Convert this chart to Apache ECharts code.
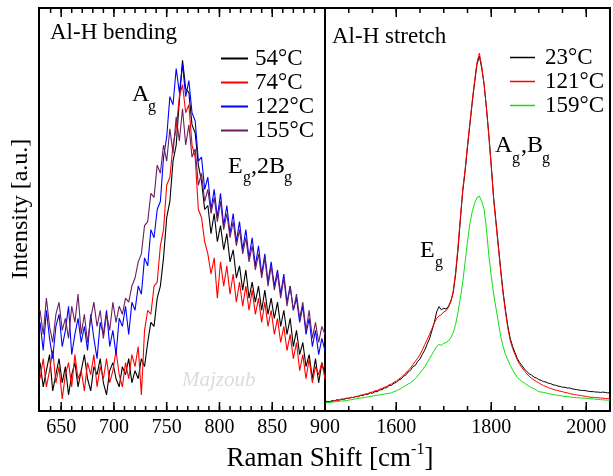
<!DOCTYPE html>
<html><head><meta charset="utf-8">
<script src="https://cdn.jsdelivr.net/npm/echarts@6/dist/echarts.min.js"></script>
<style>html,body{margin:0;padding:0;background:#fff}#c{width:613px;height:476px}</style>
</head><body><div id="c"></div>
<script>
// ---------- data ----------
// Left panel: Al-H bending, sampled every 3 cm-1 from 630 to 900
const leftStart = 630, leftStep = 3;
const black54 = [12,6,10,14,5,9,13,7,11,4,
 9,12,6,10,14,8,5,11,9,13,
 7,4,10,12,8,6,11,9,13,7,
 10,8,13,11,17,22,21,28,31,38,
 48,52,62,66,77,87,80,79,71,69,
 61,57,50,51,44,49,42,46,40,44,
 37,40,33,36,30,35,28,32,27,31,
 25,30,24,28,23,27,21,25,19,23,
 16,20,14,17,11,14,8,13,7,12,
 9];
const red74 = [8,13,6,10,15,7,11,3,9,12,
 6,14,8,10,5,12,9,14,6,11,
 8,13,7,10,15,9,6,12,8,14,
 11,16,4,20,25,24,31,32,41,45,
 56,58,66,70,78,81,74,76,66,63,
 50,48,42,39,34,38,28,37,31,36,
 29,34,27,32,26,31,25,30,24,28,
 22,27,21,25,19,23,17,21,15,19,
 13,17,10,14,8,13,7,11,9,12,
 8];
const blue122 = [22,15,25,18,13,21,24,16,20,26,
 14,19,23,17,21,15,24,18,13,22,
 19,25,16,20,14,23,21,26,19,27,
 25,31,29,38,36,45,43,50,52,63,
 68,78,76,85,79,86,78,82,74,72,
 62,63,55,58,50,55,48,54,46,51,
 44,49,42,47,40,45,38,43,36,41,
 34,39,32,37,31,35,29,34,27,31,
 25,28,22,26,19,23,16,20,14,18,
 15];
const purple155 = [25,19,28,21,17,24,27,20,23,18,
 26,22,29,19,24,17,23,27,21,25,
 18,24,20,27,22,26,24,28,27,31,
 33,37,39,46,47,54,53,61,59,66,
 62,70,64,73,67,75,66,71,63,65,
 56,59,52,55,49,53,47,52,45,49,
 43,47,41,45,39,43,37,41,35,39,
 33,38,31,36,30,34,28,33,26,31,
 25,29,23,27,20,25,18,22,17,21,
 19];

// Right panel: Al-H stretch, sampled every 5 cm-1 from 1450 to 2050
const rightStart = 1450, rightStep = 5;
const black23 = [2.2,2.4,2.3,2.6,2.5,2.8,2.7,3.0,2.9,3.2,
 3.1,3.4,3.3,3.6,3.5,3.9,3.8,4.2,4.1,4.5,
 4.4,4.8,4.8,5.2,5.3,5.7,5.8,6.3,6.4,6.9,
 7.1,7.7,7.9,8.6,8.9,9.7,10.1,11.0,11.3,12.3,
 12.9,14.1,15.1,16.6,17.9,19.9,21.9,24.6,25.9,25.1,
 25.5,25.3,26.0,27.3,29.4,34.0,40.0,47.5,54.5,59.5,
 65.5,71.0,76.5,81.5,86.0,88.0,85.0,81.0,75.0,68.5,
 61.0,53.0,47.0,41.0,35.0,29.5,25.0,21.0,18.0,16.0,
 14.5,13.0,12.0,11.2,10.4,9.8,9.2,8.9,8.4,8.2,
 7.8,7.6,7.3,7.2,6.9,6.8,6.5,6.4,6.2,6.1,
 5.9,5.9,5.7,5.7,5.5,5.4,5.3,5.2,5.1,5.1,
 5.0,4.9,4.8,4.8,4.7,4.7,4.6,4.7,4.6,4.5,
 4.5];
const red121 = [2.0,2.2,2.2,2.4,2.5,2.6,2.7,2.9,2.9,3.1,
 3.2,3.3,3.4,3.6,3.7,3.9,4.0,4.2,4.3,4.6,
 4.7,5.0,5.1,5.4,5.6,5.9,6.1,6.5,6.7,7.1,
 7.4,7.9,8.3,8.9,9.4,10.1,10.7,11.5,12.3,13.1,
 14.0,15.2,16.5,17.7,19.0,20.4,21.8,23.0,23.6,23.9,
 24.6,24.9,25.7,27.2,29.8,34.5,40.8,48.0,55.0,60.0,
 66.0,71.5,77.0,82.0,86.5,88.8,85.5,81.0,75.0,68.0,
 60.5,52.5,46.5,40.5,34.5,29.0,24.5,20.5,17.5,15.5,
 14.0,12.6,11.5,10.7,9.9,9.2,8.6,8.1,7.7,7.3,
 7.0,6.6,6.3,6.1,5.8,5.6,5.4,5.2,5.1,4.9,
 4.8,4.6,4.5,4.3,4.2,4.1,4.0,3.9,3.8,3.7,
 3.6,3.5,3.4,3.4,3.3,3.3,3.2,3.2,3.1,3.1,
 3.0];
const green159 = [2.0,2.1,2.1,2.2,2.3,2.3,2.4,2.5,2.5,2.6,
 2.7,2.8,2.9,3.0,3.1,3.2,3.3,3.4,3.5,3.6,
 3.7,3.8,3.9,4.0,4.1,4.2,4.3,4.4,4.5,4.8,
 5.0,5.3,5.6,6.0,6.3,6.7,7.0,7.5,8.0,8.7,
 9.4,10.2,11.0,12.0,13.0,14.0,15.0,16.0,16.5,16.3,
 16.8,17.0,17.4,18.2,19.5,21.5,24.5,28.0,32.0,37.0,
 42.0,46.5,49.5,51.5,53.0,53.3,52.0,50.0,45.0,38.5,
 33.5,29.0,25.5,22.0,18.5,16.0,14.0,12.7,11.3,10.2,
 9.2,8.3,7.8,7.3,6.9,6.5,6.1,5.8,5.5,5.2,
 4.8,4.7,4.6,4.5,4.3,4.2,4.1,4.0,3.9,3.8,
 3.7,3.6,3.6,3.5,3.4,3.4,3.3,3.3,3.2,3.2,
 3.1,3.1,3.0,3.0,2.9,2.9,2.8,2.8,2.7,2.7,
 2.7];

// axis ranges and ticks
const leftRange = [629, 900], rightRange = [1450, 2050];
const leftMajor = {min:650, max:900, step:50};   // labels 650 ... 900
const leftMinor = {min:640, max:900, step:10};
const rightMajor = {min:1600, max:2000, step:200}; // labels 1600, 1800, 2000
const rightMinor = {min:1500, max:2050, step:50};
const leftNames = ['54°C','74°C','122°C','155°C'];
const rightNames = ['23°C','121°C','159°C'];

// ---------- chart ----------
const FONT = 'Liberation Serif';
const TOP = 8, H = 403, BOT = TOP + H;
const L0 = 39, W0 = 286, L1 = 325, W1 = 285;
function pairs(start, step, ys){ return ys.map((y,i)=>[start + i*step, y]); }
function range(spec){ const a = []; for (let v = spec.min; v <= spec.max; v += spec.step) a.push(v); return a; }
// linear map of each panel's x axis (same min/max and grid box as the ECharts axes)
function pxL(v){ return L0 + (v - leftRange[0]) * W0 / (leftRange[1] - leftRange[0]); }
function pxR(v){ return L1 + (v - rightRange[0]) * W1 / (rightRange[1] - rightRange[0]); }

const grids = [
  {left:L0, top:TOP, width:W0, height:H, show:true, borderColor:'#000', borderWidth:2, backgroundColor:'transparent'},
  {left:L1, top:TOP, width:W1, height:H, show:true, borderColor:'#000', borderWidth:2, backgroundColor:'transparent'}
];
const xAxes = [
  {type:'value', gridIndex:0, min:leftRange[0], max:leftRange[1], show:false},
  {type:'value', gridIndex:1, min:rightRange[0], max:rightRange[1], show:false}
];
const yAxes = [
  {type:'value', gridIndex:0, min:0, max:100, show:false},
  {type:'value', gridIndex:1, min:0, max:100, show:false}
];
// helper grid carrying the tick labels (650 ... 900 and 1600 / 1800 / 2000)
function labelGrid(spec, px){
  const gi = grids.length;
  const l = px(spec.min), r = px(spec.max);
  grids.push({left:l, top:TOP, width:r - l, height:H, show:false});
  yAxes.push({type:'value', gridIndex:gi, min:0, max:1, show:false});
  xAxes.push({type:'value', gridIndex:gi, min:spec.min, max:spec.max, interval:spec.step, position:'bottom',
    axisLine:{show:false, onZero:false}, splitLine:{show:false}, axisTick:{show:false},
    axisLabel:{show:true, showMinLabel:true, showMaxLabel:true, fontFamily:FONT, fontSize:20,
      color:'#000', margin:7, formatter:function(v){ return String(v); }}
  });
}
labelGrid(leftMajor, pxL);
labelGrid(rightMajor, pxR);

function line(name, gi, data, color, w){
  return {type:'line', name:name, xAxisIndex:gi, yAxisIndex:gi, data:data,
    symbol:'none', showSymbol:false, clip:true,
    lineStyle:{color:color, width:w}, itemStyle:{color:color}, emphasis:{disabled:true}};
}
function txt(t, x, y, size, extra){
  return Object.assign({type:'text', x:x, y:y, z:100,
    style:Object.assign({text:t, fontFamily:FONT, fontSize:size, fill:'#000', align:'left', verticalAlign:'middle'}, extra||{})});
}

const graphics = [
  txt('Al-H bending', 50, 33, 23),
  txt('Al-H stretch', 332, 37, 23),
  txt('A', 132, 95, 24), txt('g', 148, 107, 16),
  txt('E', 228, 167, 24), txt('g', 243, 178, 16), txt(',2B', 251, 167, 24), txt('g', 284, 178, 16),
  txt('A', 495, 146, 24), txt('g', 512, 159, 16), txt(',B', 521, 146, 24), txt('g', 542, 159, 16),
  txt('E', 420, 251, 24), txt('g', 435, 263, 16),
  txt('Majzoub', 182, 380, 21, {fill:'#dcdcdc', fontStyle:'italic'}),
  {type:'text', x:330, y:457, z:100, style:{
    text:'{a|Raman Shift [cm}{s|-1}{a|]}', align:'center', verticalAlign:'middle',
    rich:{a:{fontFamily:FONT, fontSize:27, fill:'#000', lineHeight:30, verticalAlign:'bottom'},
          s:{fontFamily:FONT, fontSize:16, fill:'#000', lineHeight:30, verticalAlign:'top'}}}},
  {type:'text', x:21, y:209, rotation:Math.PI/2, z:100, style:{
    text:'Intensity [a.u.]', fontFamily:FONT, fontSize:24, fill:'#000', align:'center', verticalAlign:'middle'}}
];
// inward tick marks on the bottom and top frames of both panels
[[pxL, leftMinor, 5], [pxL, leftMajor, 9], [pxR, rightMinor, 5], [pxR, rightMajor, 9]].forEach(function(t){
  range(t[1]).forEach(function(v){
    const x = t[0](v);
    graphics.push({type:'line', silent:true, z:60, shape:{x1:x, y1:BOT, x2:x, y2:BOT - t[2]}, style:{stroke:'#000', lineWidth:1.5}});
    graphics.push({type:'line', silent:true, z:60, shape:{x1:x, y1:TOP, x2:x, y2:TOP + t[2]}, style:{stroke:'#000', lineWidth:1.5}});
  });
});

const option = {
  animation:false,
  backgroundColor:'#fff',
  textStyle:{fontFamily:FONT},
  grid:grids, xAxis:xAxes, yAxis:yAxes,
  legend:[
    {data:leftNames, orient:'vertical', left:216, top:42, itemWidth:27, itemHeight:2, itemGap:1, icon:'rect',
     selectedMode:false, textStyle:{fontFamily:FONT, fontSize:23, color:'#000', lineHeight:22, padding:[0,0,0,2]}},
    {data:rightNames, orient:'vertical', left:505, top:41, itemWidth:25, itemHeight:1.5, itemGap:1, icon:'rect',
     selectedMode:false, textStyle:{fontFamily:FONT, fontSize:23, color:'#000', lineHeight:22, padding:[0,0,0,5]}}
  ],
  series:[
    line('54°C', 0, pairs(leftStart, leftStep, black54), '#000000', 1.1),
    line('74°C', 0, pairs(leftStart, leftStep, red74), '#ff0000', 1.1),
    line('122°C', 0, pairs(leftStart, leftStep, blue122), '#0000ff', 1.1),
    line('155°C', 0, pairs(leftStart, leftStep, purple155), '#6b1f5e', 1.1),
    line('23°C', 1, pairs(rightStart, rightStep, black23), '#000000', 1),
    line('121°C', 1, pairs(rightStart, rightStep, red121), '#ff0000', 1),
    line('159°C', 1, pairs(rightStart, rightStep, green159), '#11dd11', 1)
  ],
  graphic:graphics
};
const chart = echarts.init(document.getElementById('c'));
chart.setOption(option);
</script>
</body></html>
